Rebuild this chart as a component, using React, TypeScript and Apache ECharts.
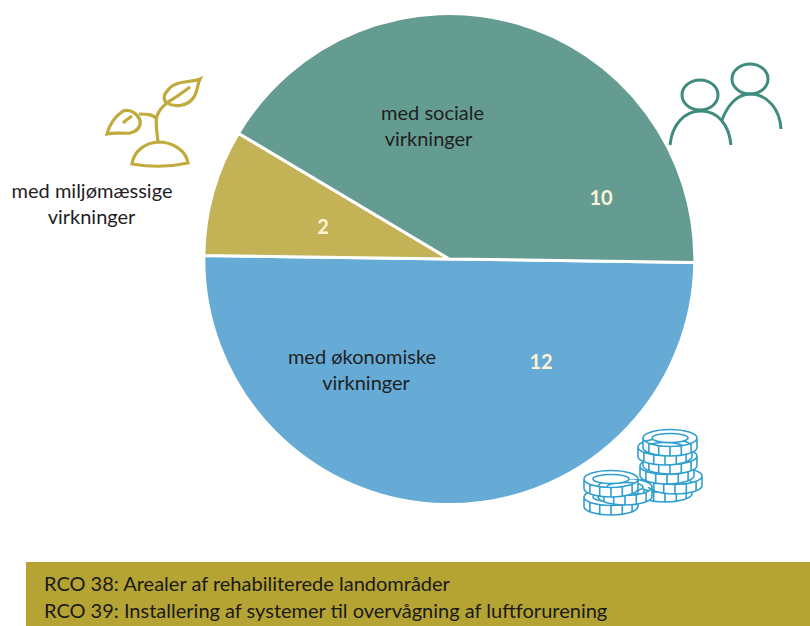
import React, { useEffect, useRef } from "react";
import * as echarts from "echarts";

const categories = ["med økonomiske\nvirkninger", "med miljømæssige\nvirkninger", "med sociale\nvirkninger"];
const values = [12, 2, 10];
const sliceColors = ["#66abd6", "#c4b257", "#659c92"];
const footerLines = [
  "RCO 38: Arealer af rehabiliterede landområder",
  "RCO 39: Installering af systemer til overvågning af luftforurening",
];
const FONT = "Lato, 'Open Sans', sans-serif";

const valueAnchors = [[541, 361], [323, 226], [601, 197]];
const nameLineAnchors = [
  [[362, 356], [366, 382]],
  [[92, 190], [91.5, 216]],
  [[432.5, 112], [428.5, 138]],
];

const coinPath = (() => {
  const rx = 27, ry = 8.5, h = 9.5;
  const irx = 18, iry = 4.5;
  let d = `M${-rx},0 A${rx},${ry} 0 0 1 ${rx},0 L${rx},${h} A${rx},${ry} 0 0 1 ${-rx},${h} Z `;
  d += `M${-rx},0 A${rx},${ry} 0 0 0 ${rx},0 `;
  d += `M${-irx},0 A${irx},${iry} 0 1 1 ${irx},0 A${irx},${iry} 0 1 1 ${-irx},0 Z `;
  [-0.78, -0.42, 0, 0.42, 0.78].forEach((t) => {
    const x = t * rx;
    const y = ry * Math.sqrt(1 - t * t);
    d += `M${x.toFixed(1)},${y.toFixed(1)} L${x.toFixed(1)},${(y + h).toFixed(1)} `;
  });
  return d;
})();

const coinPositions = [
  [665, 484], [675, 476], [667, 466], [670, 456], [665, 447], [670, 438],
  [611, 497], [625, 487], [611, 479],
];

const plantPaths = [
  "M200,79 C190,83 175,80 168,90 C163,95 163,100 167,103 C175,108 188,106 194,97 C198,90 197,85 200,79 Z",
  "M190,87 C182,93 175,98 168,102",
  "M158,142 C157,132 155,122 157,116 C159,110 163,106 167,103",
  "M157,119 C153,114 146,114 139,114",
  "M107,134 C109,126 113,118 123,111 C130,109 137,113 140,120 C141,126 138,131 130,133 C122,134 115,132 107,134 Z",
  "M123,123 C126,120 129,118 132,116",
  "M132,164 C134,150 146,143 158,142 C172,142 186,150 188,163 C170,167 150,167 132,164 Z",
];
const peoplePaths = [
  "M670,145 C672,125 684,111 701,111 C718,111 729,125 731,145",
  "M722,120 C728,104 738,94 750,94 C768,94 780,110 781,129",
];

const reg = (name: string, d: string) =>
  echarts.graphic.registerShape(name, echarts.graphic.extendPath(d, {}) as any);
reg("coinShape", coinPath);
plantPaths.forEach((d, i) => reg("plant" + i, d));
peoplePaths.forEach((d, i) => reg("people" + i, d));

export default function App() {
  const ref = useRef<HTMLDivElement>(null);
  useEffect(() => {
    const chart = echarts.init(ref.current!, undefined, { renderer: "svg" });

    const iconStroke = (color: string, width: number) => ({ fill: "none", stroke: color, lineWidth: width });

    const graphic: any[] = [
      { type: "rect", shape: { x: 26, y: 562, width: 784, height: 64 }, style: { fill: "#b5a334" }, silent: true },
      ...footerLines.map((t, i) => ({
        type: "text", x: 44, y: 583 + i * 27,
        style: { text: t, fill: "#1a1a1a", font: `20px ${FONT}`, textAlign: "left", textVerticalAlign: "middle" },
      })),
      ...categories.flatMap((t, i) =>
        t.split("\n").map((line, j) => ({
          type: "text", x: nameLineAnchors[i][j][0], y: nameLineAnchors[i][j][1], z: 10,
          style: { text: line, fill: "#1f1f1f", font: `20px ${FONT}`, textAlign: "center", textVerticalAlign: "middle" },
        }))
      ),
      ...plantPaths.map((_, i) => ({ type: "plant" + i, x: 0, y: 0, style: iconStroke("#c0ab3e", 3.2) })),
      { type: "ellipse", shape: { cx: 700, cy: 95, rx: 18, ry: 15 }, style: iconStroke("#3f8b7e", 3) },
      { type: "ellipse", shape: { cx: 750, cy: 79, rx: 18, ry: 15 }, style: iconStroke("#3f8b7e", 3) },
      ...peoplePaths.map((_, i) => ({ type: "people" + i, x: 0, y: 0, style: iconStroke("#3f8b7e", 3) })),
      ...coinPositions.map(([x, y]) => ({
        type: "coinShape", x, y, z: 10, style: { fill: "#fff", stroke: "#2f9ed0", lineWidth: 1.6 },
      })),
    ];

    chart.setOption({
      animation: false,
      backgroundColor: "#fff",
      graphic,
      series: [
        {
          type: "pie",
          center: [449.3, 259],
          radius: [0, 245.5],
          startAngle: -0.8,
          clockwise: true,
          silent: true,
          z: 1,
          itemStyle: { borderColor: "#fff", borderWidth: 3 },
          data: values.map((v, i) => ({
            value: v,
            name: categories[i],
            itemStyle: { color: sliceColors[i] },
          })),
          label: {
            show: true,
            position: "inside",
            formatter: "{c}",
            color: "#fdf3d6",
            fontFamily: FONT,
            fontWeight: "bold",
            fontSize: 20,
          },
          labelLine: { show: false },
          labelLayout: (p: any) => ({
            x: valueAnchors[p.dataIndex][0],
            y: valueAnchors[p.dataIndex][1],
            align: "center",
            verticalAlign: "middle",
          }),
        },
      ],
    });
    return () => chart.dispose();
  }, []);
  return <div ref={ref} style={{ position: "fixed", left: 0, top: 0, width: 810, height: 626 }} />;
}
